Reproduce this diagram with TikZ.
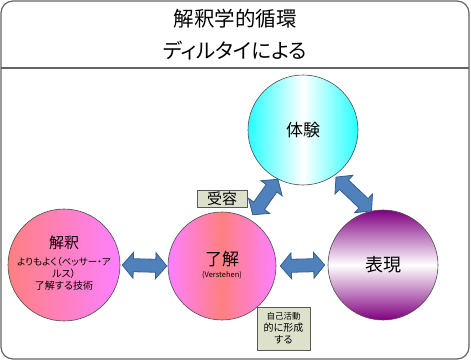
\documentclass[tikz,border=0pt]{standalone}
\usepackage{fontspec}
\setmainfont{Noto Sans CJK JP}[RawFeature=+palt]
\usetikzlibrary{calc}
\definecolor{framegray}{RGB}{100,100,100}
\definecolor{arrowfill}{RGB}{79,129,189}
\definecolor{arrowline}{RGB}{56,93,138}
\definecolor{boxfill}{RGB}{221,225,204}
\definecolor{salmon}{RGB}{255,128,128}
\definecolor{pinkm}{RGB}{255,128,255}
\definecolor{cyanc}{RGB}{40,255,255}
\definecolor{purp}{RGB}{128,0,128}
\newcommand\fsz[2]{\fontsize{#1}{#2}\selectfont}
\newcommand\blockarr[3]{%
  \coordinate (#1b1) at ($(#2)!11pt!(#3)$);
  \coordinate (#1b2) at ($(#3)!11pt!(#2)$);
  \draw[blockarrow] (#2) -- ($(#1b1)!13pt!90:(#3)$) -- ($(#1b1)!6.5pt!90:(#3)$)
    -- ($(#1b2)!6.5pt!-90:(#2)$) -- ($(#1b2)!13pt!-90:(#2)$) -- (#3)
    -- ($(#1b2)!13pt!90:(#2)$) -- ($(#1b2)!6.5pt!90:(#2)$)
    -- ($(#1b1)!6.5pt!-90:(#3)$) -- ($(#1b1)!13pt!-90:(#3)$) -- cycle;}
\tikzset{
  blockarrow/.style={fill=arrowfill, draw=arrowline, line width=0.8pt, line join=miter},
  ball/.style={circle, draw=black!70, line width=0.6pt, inner sep=0pt},
  tag/.style={draw=black!65, fill=boxfill, line width=0.7pt, inner sep=0pt, align=center},
}
\begin{document}
\begin{tikzpicture}[x=1pt,y=-1pt]
\useasboundingbox (0,0) rectangle (471,361);
\draw[framegray, line width=1.2pt, rounded corners=12pt, fill=white] (1,1) rectangle (469,359);
\draw[framegray, line width=1.2pt] (1,68) -- (469,68);
\node (t1) at (235,19) {\fsz{20.5}{24}解釈学的循環};
\node (t2) at (235,51) {\fsz{20.5}{24}ディルタイによる};
% circles
\node[ball, minimum size=110pt, left color=cyanc, right color=cyanc, middle color=white] (taiken) at (303,130) {};
\node at (taiken.center) {\fsz{17}{20}体験};
\node[ball, minimum size=110pt, top color=purp, bottom color=purp, middle color=white] (hyogen) at (383,265) {};
\node at (hyogen.center) {\fsz{18}{20}表現};
\node[ball, minimum size=108pt, left color=pinkm, right color=pinkm, middle color=salmon] (ryokai) at (222,266) {};
\node at ([yshift=7pt]ryokai.center) {\fsz{17}{20}了解};
\node at ([yshift=-9pt]ryokai.center) {\fsz{7.5}{9}(Verstehen)};
\node[ball, minimum size=112pt, left color=salmon, right color=pinkm] (kaishaku) at (64,265) {};
\node (kl) at ([yshift=22pt]kaishaku.center) {\fsz{15}{18}解釈};
\node[align=center, anchor=north, inner sep=0pt] (ks) at ([yshift=8pt]kaishaku.center) {\fsz{9.5}{10.5}よりもよく（ベッサー・ア\\ルス）\\了解する技術};
% tags
\node[tag, minimum width=50pt, minimum height=17pt] (juyo) at (222,198.5) {\fsz{15}{16}受容};
\node[tag, minimum width=53pt, minimum height=43pt] (jiko) at (283.5,328.5) {\fsz{8.5}{10.5}自己活動\\的に形成\\する};
% arrows
\coordinate (a1s) at ([xshift=2pt]kaishaku.east);
\coordinate (a1e) at ([xshift=-1pt]ryokai.west);
\blockarr{a1}{a1s}{a1e}
\coordinate (a2s) at ([xshift=4pt]ryokai.east);
\coordinate (a2e) at ([xshift=-3pt]hyogen.west);
\blockarr{a2}{a2s}{a2e}
\coordinate (a3s) at ($(ryokai.center)!1.1!(ryokai.59)$);
\coordinate (a3e) at (taiken.243);
\blockarr{a3}{a3s}{a3e}
\coordinate (a4s) at ($(taiken.center)!1.04!(taiken.305)$);
\coordinate (a4e) at (hyogen.102);
\blockarr{a4}{a4s}{a4e}
\end{tikzpicture}
\end{document}
